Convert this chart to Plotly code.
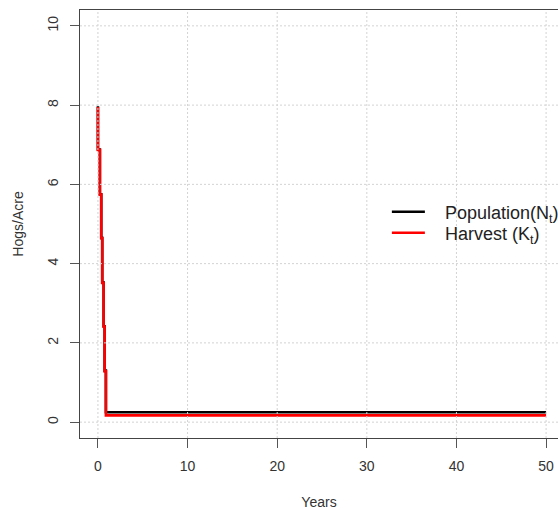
import plotly.graph_objects as go

# Step points (vertical-then-horizontal steps)
years = [0, 0.22, 0.37, 0.48, 0.64, 0.75, 0.89, 50]
population = [7.97, 6.88, 5.75, 4.65, 3.52, 2.42, 1.30, 0.25]
harvest = [7.95, 6.87, 5.74, 4.64, 3.51, 2.41, 1.28, 0.17]

x_ticks = [0, 10, 20, 30, 40, 50]
y_ticks = [0, 2, 4, 6, 8, 10]

FONT = "Liberation Sans, Arial"
PAD = "&nbsp;&nbsp;&nbsp;"

fig = go.Figure()
fig.add_trace(go.Scatter(x=years, y=population, mode="lines", line_shape="vh",
                         line=dict(color="black", width=2.6),
                         name=PAD + "Population(N<sub>t</sub>)", legend="legend"))
fig.add_trace(go.Scatter(x=years, y=harvest, mode="lines", line_shape="vh",
                         line=dict(color="#ff0000", width=2.6),
                         name=PAD + "Harvest (K<sub>t</sub>)", legend="legend2"))

# dotted grid drawn above the lines (as R's grid() after plotting)
shapes = []
for v in x_ticks:
    shapes.append(dict(type="line", xref="x", yref="paper", x0=v, x1=v, y0=0, y1=1,
                       layer="above", line=dict(color="#d3d3d3", width=1, dash="2px,2px")))
for v in y_ticks:
    shapes.append(dict(type="line", xref="paper", yref="y", x0=0, x1=1, y0=v, y1=v,
                       layer="above", line=dict(color="#d3d3d3", width=1, dash="2px,2px")))

axis_common = dict(showgrid=False, zeroline=False, showline=True, linecolor="#444",
                   linewidth=1, ticks="outside", ticklen=9, tickcolor="#555", tickwidth=1,
                   tickfont=dict(family=FONT, size=14, color="#333"),
                   ticklabelstandoff=6, automargin=False)

legend_common = dict(xanchor="left", yanchor="middle", bgcolor="rgba(0,0,0,0)",
                     borderwidth=0, font=dict(family=FONT, size=18, color="#222"),
                     itemwidth=33)

fig.update_layout(
    width=558, height=510,
    margin=dict(l=80, r=0, t=10, b=72, autoexpand=False),
    paper_bgcolor="white", plot_bgcolor="white",
    font=dict(family=FONT, size=14, color="#333"),
    shapes=shapes,
    showlegend=True,
    legend=dict(x=0.642, y=0.528, **legend_common),
    legend2=dict(x=0.642, y=0.479, **legend_common),
)
fig.update_xaxes(range=[-2, 51.33], tickvals=x_ticks, mirror=True,
                 title=dict(text="Years", standoff=26, font=dict(family=FONT, size=14, color="#333")),
                 **axis_common)
fig.update_yaxes(range=[-0.4, 10.4], tickvals=y_ticks, tickangle=-90, mirror=False,
                 title=dict(text="Hogs/Acre", standoff=18, font=dict(family=FONT, size=14, color="#333")),
                 **axis_common)

fig.write_html("out.html", config={"displayModeBar": False},
               post_script="document.body.style.margin='0px';document.body.style.overflow='hidden';")
